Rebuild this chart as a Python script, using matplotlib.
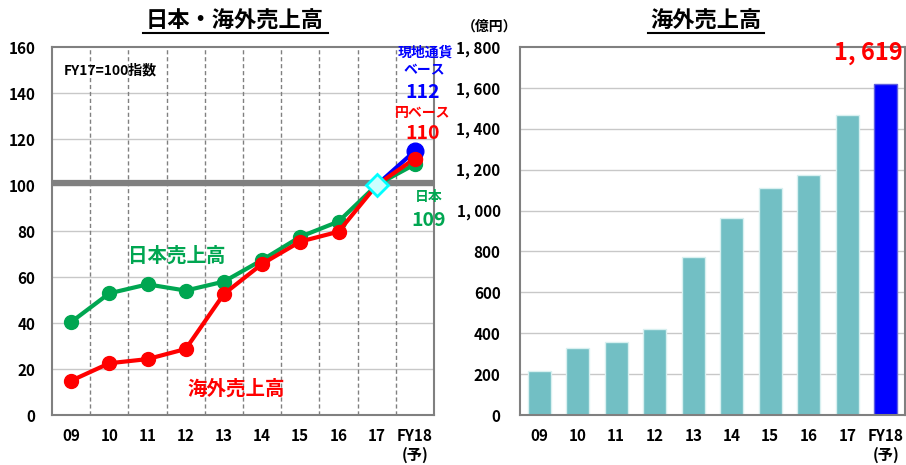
import matplotlib.pyplot as plt
from matplotlib.lines import Line2D

plt.rcParams['font.family'] = ['Noto Sans CJK JP', 'DejaVu Sans']
plt.rcParams['font.weight'] = 'bold'

# データ
nendo = ["09", "10", "11", "12", "13", "14", "15", "16", "17", "FY18\n(予)"]
nihon = [40.4, 52.9, 56.8, 54.1, 58.0, 67.4, 77.5, 84.1, 100, 109]
kaigai_en = [14.9, 22.5, 24.3, 28.7, 52.6, 65.7, 75.4, 79.7, 100, 111.5]
kaigai_genchi = [100, 114.8]   # 17 -> FY18
kaigai_uriage = [217, 329, 356, 419, 771, 962, 1112, 1173, 1466, 1619]
y_ticks_hidari = [0, 20, 40, 60, 80, 100, 120, 140, 160]
y_ticks_migi = [0, 200, 400, 600, 800, 1000, 1200, 1400, 1600, 1800]

verde = "#00A651"
vermelho = "#FF0000"
azul = "#0000FF"
cinza = "#808080"

fig = plt.figure(figsize=(9.06, 4.65), dpi=100)

# 左のグラフ
ax1 = fig.add_axes([52/906, 50/465, 382/906, 368/465])
x = list(range(len(nendo)))
for b in range(1, len(nendo)):
    ax1.axvline(b - 0.5, color=cinza, linestyle=(0, (3, 2)), linewidth=1, zorder=1)
for v in y_ticks_hidari[1:-1]:
    ax1.axhline(v, color="#C8C8C8", linewidth=1, zorder=0)
ax1.axhline(101, color=cinza, linewidth=4.5, zorder=2)

ax1.plot(x, nihon, color=verde, linewidth=3, marker="o", markersize=10, zorder=3)
ax1.plot(x, kaigai_en, color=vermelho, linewidth=3, marker="o", markersize=10, zorder=4)
ax1.plot(x[-2:], kaigai_genchi, color=azul, linewidth=3, zorder=3.5)
ax1.plot(x[-1], kaigai_genchi[-1], color=azul, marker="o", markersize=12, zorder=5)
ax1.plot(x[-1], kaigai_en[-1], color=vermelho, marker="o", markersize=10, zorder=5)
ax1.plot(x[-1], nihon[-1], color=verde, marker="o", markersize=9, zorder=4.5)
ax1.plot(x[-2], 100, marker="D", markersize=11, markerfacecolor="#CCFFFF",
         markeredgecolor="#00FFFF", markeredgewidth=2, linestyle="none", zorder=6)

ax1.set_xlim(-0.5, 9.5)
ax1.set_ylim(0, 160)
ax1.set_xticks(x)
ax1.set_xticklabels(nendo, fontsize=11, fontweight="bold", linespacing=1.25)
ax1.set_yticks(y_ticks_hidari)
ax1.set_yticklabels([str(v) for v in y_ticks_hidari], fontsize=11, fontweight="bold")
ax1.tick_params(length=0, pad=12)
ax1.tick_params(axis="x", pad=9)
for s in ax1.spines.values():
    s.set_color(cinza)
    s.set_linewidth(1.5)

ax1.text(0.03, 0.955, "FY17=100指数", transform=ax1.transAxes, fontsize=10,
         fontweight="bold", va="top", ha="left")
ax1.text(1.5, 69, "日本売上高", color=verde, fontsize=14, fontweight="bold", ha="left", va="center")
ax1.text(3.05, 11.5, "海外売上高", color=vermelho, fontsize=14, fontweight="bold", ha="left", va="center")
ax1.text(9.27, 157.4, "現地通貨", color=azul, fontsize=10, fontweight="bold", ha="center", va="center", clip_on=False)
ax1.text(9.25, 150, "ベース", color=azul, fontsize=10, fontweight="bold", ha="center", va="center", clip_on=False)
ax1.text(9.2, 140.4, "112", color=azul, fontsize=14, fontweight="bold", ha="center", va="center", clip_on=False)
ax1.text(9.2, 131.3, "円ベース", color=vermelho, fontsize=10, fontweight="bold", ha="center", va="center", clip_on=False)
ax1.text(9.2, 122.6, "110", color=vermelho, fontsize=14, fontweight="bold", ha="center", va="center", clip_on=False)
ax1.text(9.37, 94.8, "日本", color=verde, fontsize=10, fontweight="bold", ha="center", va="center", clip_on=False)
ax1.text(9.37, 84.5, "109", color=verde, fontsize=14, fontweight="bold", ha="center", va="center", clip_on=False)

# 右のグラフ
ax2 = fig.add_axes([520/906, 50/465, 385/906, 368/465])
for v in y_ticks_migi[1:-1]:
    ax2.axhline(v, color="#C8C8C8", linewidth=1, zorder=0)
cores = ["#72BFC4"] * (len(nendo) - 1) + [azul]
bordas = ["#D8F0F0"] * (len(nendo) - 1) + ["#6060E0"]
ax2.bar(x, kaigai_uriage, width=0.6, color=cores, edgecolor=bordas, linewidth=1, zorder=2)
ax2.set_xlim(-0.5, 9.5)
ax2.set_ylim(0, 1800)
ax2.set_xticks(x)
ax2.set_xticklabels(nendo, fontsize=11, fontweight="bold", linespacing=1.25)
ax2.set_yticks(y_ticks_migi)
ax2.set_yticklabels([f"{v:,}".replace(",", ", ") for v in y_ticks_migi], fontsize=11, fontweight="bold")
ax2.tick_params(length=0, pad=14)
ax2.tick_params(axis="x", pad=9)
for s in ax2.spines.values():
    s.set_color(cinza)
    s.set_linewidth(1.5)
ax2.text(0.995, 1619 + 95, "1, 619", transform=ax2.get_yaxis_transform(), color=vermelho,
         fontsize=17, fontweight="bold", ha="right", va="bottom", clip_on=False)

# タイトル（下線付き）
fig.text(235/906, 1 - 21/465, "日本・海外売上高", fontsize=16, fontweight="bold", ha="center", va="center")
fig.add_artist(Line2D([143/906, 328/906], [1 - 33/465, 1 - 33/465], color="black", linewidth=1.5))
fig.text(706/906, 1 - 21/465, "海外売上高", fontsize=16, fontweight="bold", ha="center", va="center")
fig.add_artist(Line2D([648/906, 764/906], [1 - 33/465, 1 - 33/465], color="black", linewidth=1.5))
fig.text(490/906, 1 - 27/465, "（億円）", fontsize=10, fontweight="bold", ha="center", va="center")

fig.savefig("out.png", dpi=100)
